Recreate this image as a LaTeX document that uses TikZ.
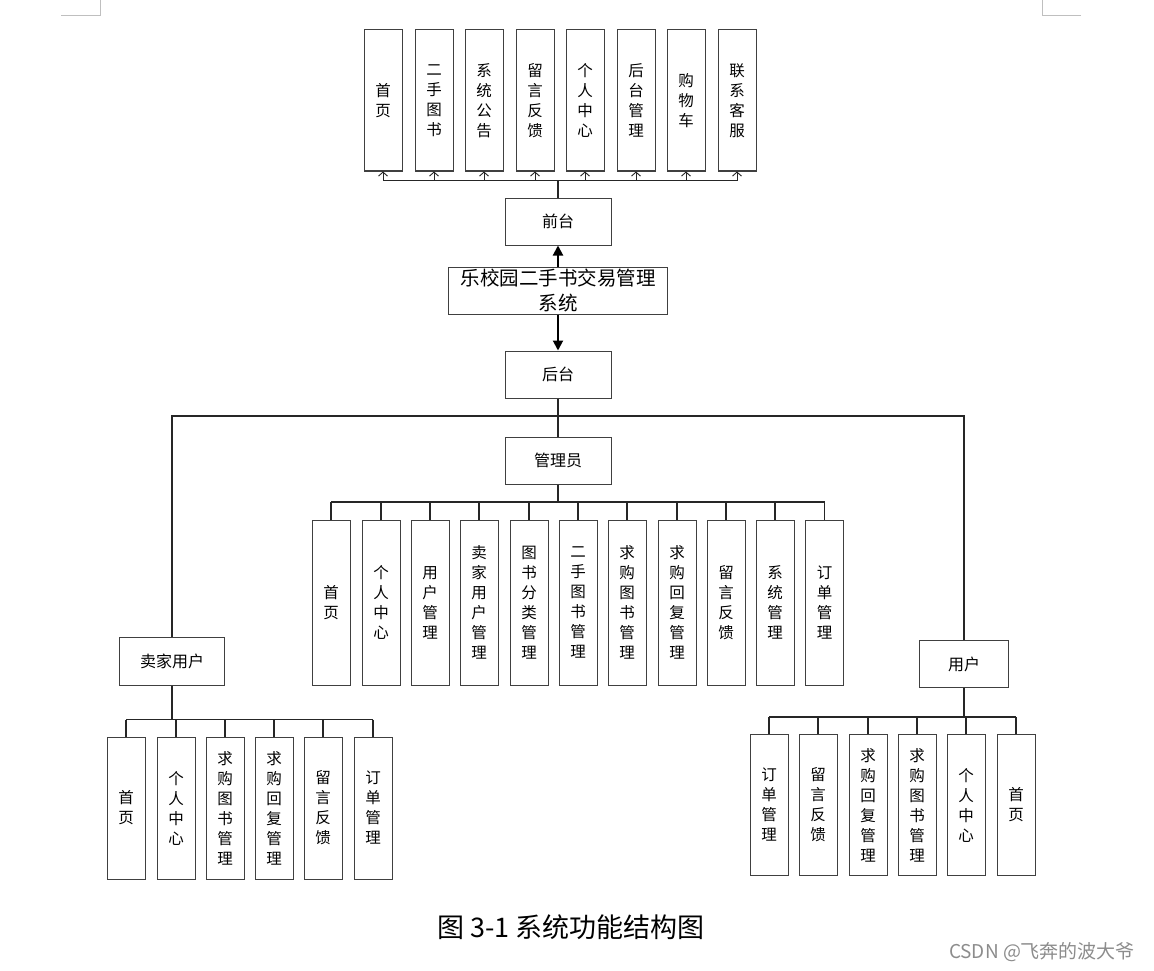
\documentclass[tikz,border=0pt]{standalone}
\usepackage{fontspec}
\setmainfont{Noto Sans CJK SC}
\usetikzlibrary{arrows.meta}
\newcommand{\vt}{\fontsize{15.5}{20}\selectfont}
\begin{document}
\begin{tikzpicture}[x=1pt,y=-1pt,
  vbox/.style={draw=black!75,line width=1pt,minimum width=38,inner sep=0,align=center,font=\vt},
  hbox/.style={draw=black!75,line width=1pt,minimum width=106,minimum height=47,inner sep=0,align=center,font=\fontsize{16}{20}\selectfont},
  conn/.style={draw=black!85,line width=1.2pt},
  bus/.style={draw=black!85,line width=1.6pt},
  smalltip/.style={conn,line width=0.9pt,-{Straight Barb[length=4,width=9]}},
  bigtip/.style={draw=black,line width=2pt,-{Triangle[length=10,width=10]}}]
\useasboundingbox (0,0) rectangle (1154,971);
% corner marks
\draw[black!25,line width=1pt] (61,16) -- (100,16) -- (100,0);
\draw[black!25,line width=1pt] (1081,16) -- (1042,16) -- (1042,0);
% top row
\foreach \i/\x/\t in {1/383/首\\页,2/434/二\\手\\图\\书,3/484/系\\统\\公\\告,4/535/留\\言\\反\\馈,5/585/个\\人\\中\\心,6/636/后\\台\\管\\理,7/686/购\\物\\车,8/737/联\\系\\客\\服}
  \node[vbox,minimum height=141] (t\i) at (\x,100.5) {\t};
\node[hbox] (qt) at (558,221.5) {前台};
\node[draw=black!75,line width=1pt,minimum width=219,minimum height=47,inner sep=0,align=center,font=\fontsize{19.5}{25}\selectfont] (sys) at (558,290.5) {乐校园二手书交易管理\\系统};
\node[hbox] (ht) at (558,374.5) {后台};
\node[hbox] (gly) at (558,460.5) {管理员};
% middle row
\foreach \i/\x/\t in {1/331/首\\页,2/381/个\\人\\中\\心,3/430/用\\户\\管\\理,4/479/卖\\家\\用\\户\\管\\理,5/529/图\\书\\分\\类\\管\\理,6/578/二\\手\\图\\书\\管\\理,7/627/求\\购\\图\\书\\管\\理,8/677/求\\购\\回\\复\\管\\理,9/726/留\\言\\反\\馈,10/775/系\\统\\管\\理,11/824.5/订\\单\\管\\理}
  \node[vbox,minimum height=165] (m\i) at (\x,602.5) {\t};
\node[hbox,minimum width=105,minimum height=48] (sel) at (172,661) {卖家用户};
\node[hbox,minimum width=89] (usr) at (964,664) {用户};
% bottom left
\foreach \i/\x/\t in {1/126/首\\页,2/176/个\\人\\中\\心,3/225/求\\购\\图\\书\\管\\理,4/274/求\\购\\回\\复\\管\\理,5/323/留\\言\\反\\馈,6/373/订\\单\\管\\理}
  \node[vbox,minimum height=142] (l\i) at (\x,808) {\t};
% bottom right
\foreach \i/\x/\t in {1/769/订\\单\\管\\理,2/818/留\\言\\反\\馈,3/868/求\\购\\回\\复\\管\\理,4/917/求\\购\\图\\书\\管\\理,5/966/个\\人\\中\\心,6/1016/首\\页}
  \node[vbox,minimum height=141] (r\i) at (\x,805) {\t};
% top connectors
\coordinate (tb) at (558,180.5);
\draw[conn] (qt.north) -- (tb);
\draw[bus,line width=1.3pt] (t1.south |- tb) -- (t8.south |- tb);
\foreach \i in {1,...,8} \draw[smalltip] (t\i.south |- tb) -- (t\i.south);
\draw[bigtip] (sys.north) -- (qt.south);
\draw[bigtip] (sys.south) -- (ht.north);
% back-end connectors
\coordinate (hb) at (558,416);
\draw[conn] (ht.south) -- (gly.north);
\draw[conn] (sel.north) |- (hb) -| (usr.north);
\coordinate (mb) at (558,502);
\draw[conn] (gly.south) -- (mb);
\draw[bus] (m1.north |- mb) -- (m11.north |- mb);
\foreach \i in {1,...,11} \draw[conn] (m\i.north |- mb) -- (m\i.north);
\coordinate (lb) at (172,719.5);
\draw[conn] (sel.south) -- (lb);
\draw[conn] (l1.north |- lb) -- (l6.north |- lb);
\foreach \i in {1,...,6} \draw[conn] (l\i.north |- lb) -- (l\i.north);
\coordinate (rb) at (964,717);
\draw[bus,line width=2pt] (usr.south) -- (rb);
\draw[bus] (r1.north |- rb) -- (r6.north |- rb);
\foreach \i in {1,...,6} \draw[conn] (r\i.north |- rb) -- (r\i.north);
% caption and watermark
\node[font=\fontsize{27}{30}\selectfont,inner sep=0] (cap) at (571,927) {图 3-1 系统功能结构图};
\node[font=\fontsize{19}{20}\selectfont,text=black!45,inner sep=0] (wm) at (1042,952) {CSDN @飞奔的波大爷};
\end{tikzpicture}
\end{document}
